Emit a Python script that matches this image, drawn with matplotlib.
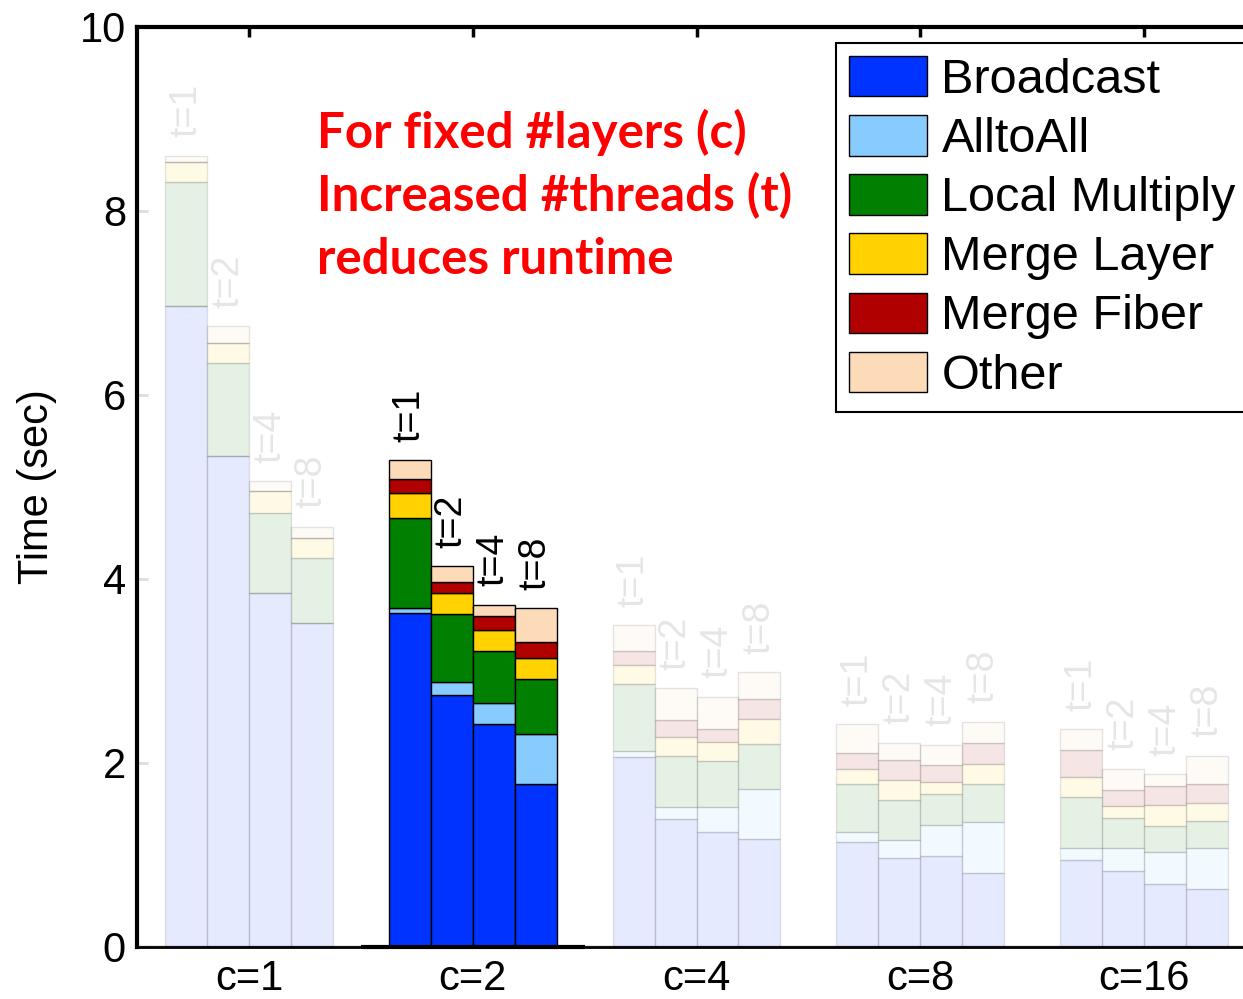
import matplotlib
matplotlib.use('Agg')
import matplotlib.pyplot as plt
import numpy as np

groups = ['c=1', 'c=2', 'c=4', 'c=8', 'c=16']
threads = ['t=1', 't=2', 't=4', 't=8']
components = ['Broadcast', 'AlltoAll', 'Local Multiply', 'Merge Layer', 'Merge Fiber', 'Other']
colors = ['#0033ff', '#88ccff', '#007f00', '#ffd200', '#b00000', '#fddab8']

# time per component (sec), rows = c, columns = t
broadcast = [[6.97, 5.34, 3.85, 3.52],
             [3.63, 2.74, 2.42, 1.77],
             [2.06, 1.39, 1.25, 1.17],
             [1.14, 0.97, 0.99, 0.80],
             [0.95, 0.83, 0.68, 0.63]]
alltoall = [[0.00, 0.00, 0.00, 0.00],
            [0.06, 0.14, 0.23, 0.54],
            [0.07, 0.13, 0.27, 0.55],
            [0.11, 0.19, 0.34, 0.56],
            [0.13, 0.25, 0.35, 0.45]]
local_multiply = [[1.35, 1.01, 0.87, 0.71],
                  [0.97, 0.74, 0.57, 0.60],
                  [0.73, 0.56, 0.50, 0.49],
                  [0.52, 0.44, 0.33, 0.41],
                  [0.55, 0.32, 0.29, 0.29]]
merge_layer = [[0.21, 0.22, 0.24, 0.22],
               [0.28, 0.23, 0.23, 0.23],
               [0.21, 0.20, 0.21, 0.27],
               [0.16, 0.22, 0.13, 0.22],
               [0.22, 0.13, 0.22, 0.19]]
merge_fiber = [[0.00, 0.00, 0.00, 0.00],
               [0.15, 0.12, 0.15, 0.17],
               [0.15, 0.19, 0.14, 0.22],
               [0.18, 0.21, 0.19, 0.23],
               [0.29, 0.18, 0.21, 0.21]]
other = [[0.07, 0.18, 0.10, 0.12],
         [0.20, 0.17, 0.12, 0.37],
         [0.28, 0.34, 0.35, 0.29],
         [0.31, 0.19, 0.22, 0.23],
         [0.23, 0.23, 0.13, 0.31]]

highlight = 1  # only c=2 is drawn at full strength
note = ['For fixed #layers (c)', 'Increased #threads (t)', 'reduces runtime']

plt.rcParams['font.family'] = ['Liberation Sans', 'DejaVu Sans']

data = np.array([broadcast, alltoall, local_multiply, merge_layer, merge_fiber, other])
fig = plt.figure(figsize=(12.43, 9.99), dpi=100)
ax = fig.add_axes([137 / 1243, 52 / 999, 1119 / 1243, 920 / 999])

x = np.arange(1, len(groups) + 1)
w = 0.1875
offsets = (np.arange(len(threads)) - 1.5) * w
handles = []
for g in range(len(groups)):
    alpha = 1.0 if g == highlight else 0.1
    bottom = np.zeros(len(threads))
    xs = x[g] + offsets
    for k, name in enumerate(components):
        h = ax.bar(xs, data[k, g], w, bottom=bottom, color=colors[k],
                   edgecolor='black', linewidth=1.0, alpha=alpha, zorder=2)
        if g == highlight:
            handles.append(h)
        bottom += data[k, g]
    for j, t in enumerate(threads):
        ax.text(xs[j], bottom[j] + 0.2, t, rotation=90, ha='center', va='bottom',
                fontsize=27, color='black', alpha=alpha)
    ax.plot([x[g] - 0.5, x[g] + 0.5], [0, 0], color='black', lw=3, alpha=alpha,
            clip_on=False, zorder=3, solid_capstyle='butt')

ax.set_xlim(0.5, 5.5)
ax.set_ylim(0, 10)
ax.set_xticks(x)
ax.set_xticklabels(groups, fontsize=30)
ax.set_yticks(range(0, 11, 2))
ax.set_yticklabels([str(v) for v in range(0, 11, 2)], fontsize=30)
ax.tick_params(axis='x', which='both', bottom=False, top=True, direction='in',
               length=7, width=2.5, color='black', pad=9)
ax.tick_params(axis='y', which='both', left=True, right=True, direction='in',
               length=8, width=2, color='#dddddd', pad=8)
for s in ['left', 'top', 'bottom']:
    ax.spines[s].set_linewidth(3)
ax.spines['bottom'].set_linewidth(2)
ax.set_ylabel('Time (sec)', fontsize=30, labelpad=16)

for i, line in enumerate(note):
    ax.text(1.305, 8.69 - i * 0.69, line, color='#ff0000', fontsize=35.5,
            fontweight='bold', family=['Lato', 'DejaVu Sans'], ha='left', va='baseline')

leg = fig.legend(handles, components, loc='upper left',
                 bbox_to_anchor=(836 / 1243, 1 - 43 / 999), borderaxespad=0,
                 fontsize=35, handlelength=1.6, handleheight=0.9,
                 labelspacing=0.25, handletextpad=0.3, borderpad=0.27,
                 fancybox=False, framealpha=1, edgecolor='black')
leg.get_frame().set_linewidth(1.5)

fig.savefig('out.png', dpi=100)
